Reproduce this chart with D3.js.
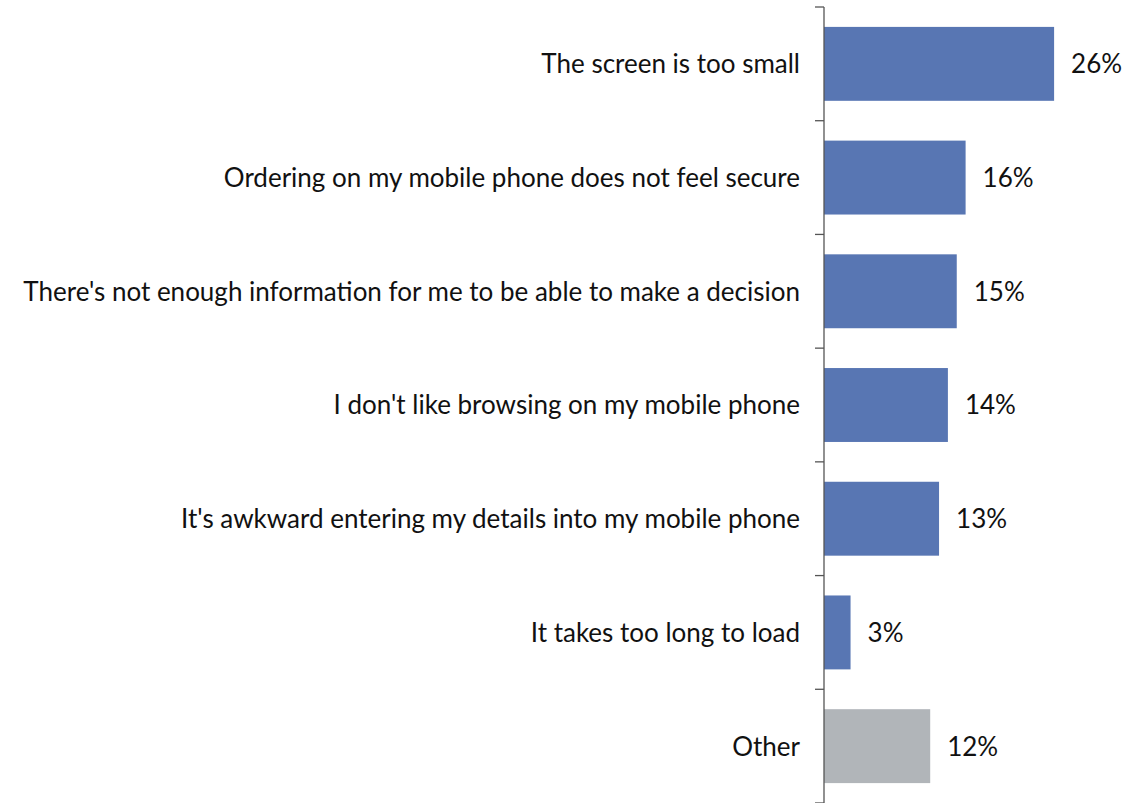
<!DOCTYPE html>
<html>
<head>
<meta charset="utf-8">
<script src="https://cdn.jsdelivr.net/npm/d3@7"></script>
<style>
  html, body { margin: 0; padding: 0; background: #ffffff; }
  svg { display: block; }
  text { font-family: Lato, "Open Sans", sans-serif; fill: #111111; }
</style>
</head>
<body>
<svg id="chart" width="1126" height="803"></svg>
<script>
// Reasons for not ordering on a mobile phone (share of respondents, %)
const categories = [
  "The screen is too small",
  "Ordering on my mobile phone does not feel secure",
  "There's not enough information for me to be able to make a decision",
  "I don't like browsing on my mobile phone",
  "It's awkward entering my details into my mobile phone",
  "It takes too long to load",
  "Other"
];
const values = [26, 16, 15, 14, 13, 3, 12];
const valueLabels = ["26%", "16%", "15%", "14%", "13%", "3%", "12%"];
const isOther = [false, false, false, false, false, false, true];

const svg = d3.select("#chart");
const axisX = 824;
const plotTop = 7, plotBottom = 803;

const y = d3.scaleBand()
  .domain(categories)
  .range([plotTop, plotBottom])
  .paddingInner(0.35)
  .paddingOuter(0.175);

const x = d3.scaleLinear()
  .domain([0, 30])
  .range([axisX, axisX + 265.5]);

// bars
svg.append("g")
  .selectAll("rect")
  .data(categories)
  .join("rect")
  .attr("x", x(0))
  .attr("y", d => y(d))
  .attr("width", (d, i) => x(values[i]) - x(0))
  .attr("height", y.bandwidth())
  .attr("fill", (d, i) => isOther[i] ? "#b1b5b9" : "#5876b3");

// category axis with ticks between bands
const axisG = svg.append("g").attr("stroke", "#555555").attr("stroke-width", 1.3);
axisG.append("line")
  .attr("x1", axisX).attr("x2", axisX)
  .attr("y1", plotTop).attr("y2", plotBottom);
const tickYs = d3.range(categories.length + 1)
  .map(k => plotTop + k * (plotBottom - plotTop) / categories.length);
axisG.selectAll("line.tick")
  .data(tickYs)
  .join("line")
  .attr("class", "tick")
  .attr("x1", axisX - 9).attr("x2", axisX)
  .attr("y1", d => d).attr("y2", d => d);

// category labels
svg.append("g")
  .selectAll("text")
  .data(categories)
  .join("text")
  .attr("x", axisX - 24)
  .attr("y", d => y(d) + y.bandwidth() / 2)
  .attr("dy", "0.36em")
  .attr("text-anchor", "end")
  .attr("font-size", 26)
  .text(d => d);

// value labels
svg.append("g")
  .selectAll("text")
  .data(categories)
  .join("text")
  .attr("x", (d, i) => x(values[i]) + 17)
  .attr("y", d => y(d) + y.bandwidth() / 2)
  .attr("dy", "0.36em")
  .attr("font-size", 26)
  .text((d, i) => valueLabels[i]);
</script>
</body>
</html>
